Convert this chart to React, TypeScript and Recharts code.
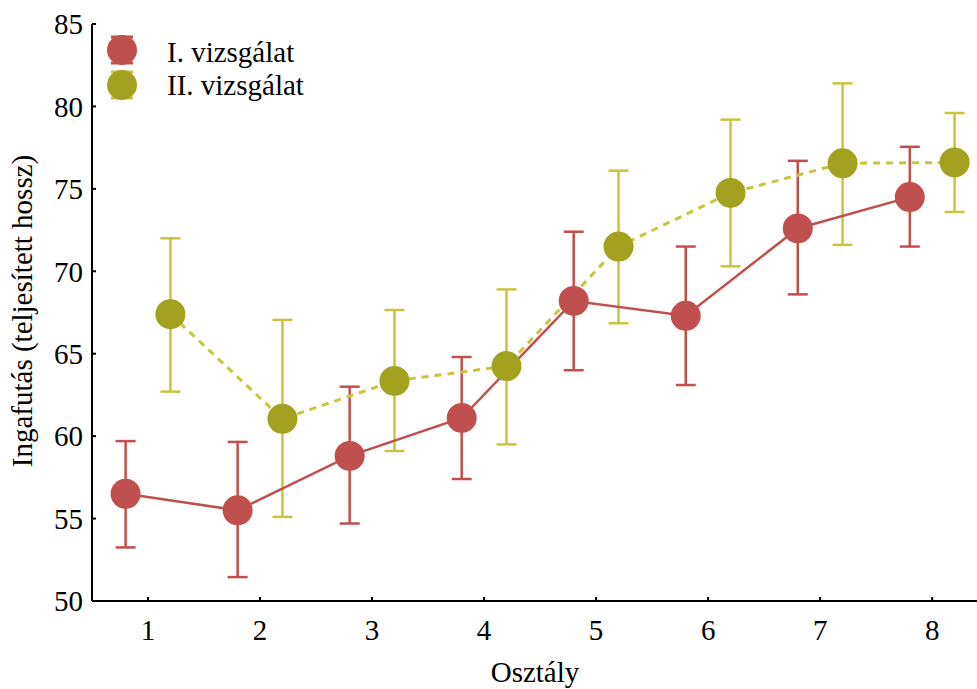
import React from "react";
import { ComposedChart, Scatter, Line, XAxis, YAxis, ErrorBar } from "recharts";

// osztályok (x) és a két vizsgálat átlagai + hibasáv határai
const classes = [1, 2, 3, 4, 5, 6, 7, 8];
const yTicks = [50, 55, 60, 65, 70, 75, 80, 85];

const meanI = [56.5, 55.5, 58.8, 61.1, 68.2, 67.3, 72.6, 74.5];
const lowI = [53.25, 51.45, 54.7, 57.4, 64.0, 63.1, 68.6, 71.5];
const highI = [59.7, 59.65, 63.0, 64.8, 72.4, 71.5, 76.7, 77.55];

const meanII = [67.4, 61.05, 63.35, 64.25, 71.5, 74.75, 76.55, 76.6];
const lowII = [62.7, 55.1, 59.1, 59.5, 66.85, 70.3, 71.6, 73.6];
const highII = [72.0, 67.05, 67.65, 68.9, 76.1, 79.2, 81.4, 79.6];

const seriesNames = ["I. vizsgálat", "II. vizsgálat"];

const RED = "#C0504D";
const OLIVE = "#A2A220";
const OLIVE_LIGHT = "#C8C43E";
const FONT = "'Liberation Serif', 'Times New Roman', serif";
const FS = 29;

const build = (mean: number[], low: number[], high: number[], shift: number) =>
  classes.map((c, i) => ({
    x: c + shift,
    y: mean[i],
    err: [mean[i] - low[i], high[i] - mean[i]],
  }));

const dataI = build(meanI, lowI, highI, -0.2);
const dataII = build(meanII, lowII, highII, 0.2);

const dot = (color: string) => (p: any) => <circle cx={p.cx} cy={p.cy} r={15} fill={color} />;

// jelmagyarázat a rajzterület bal felső sarkában
function LegendOverlay() {
  const items = [
    { name: seriesNames[0], color: RED, cap: RED, cy: 50, ty: 62 },
    { name: seriesNames[1], color: OLIVE, cap: OLIVE_LIGHT, cy: 85, ty: 95 },
  ];
  return (
    <svg
      width={977}
      height={689}
      style={{ position: "absolute", left: 0, top: 0, pointerEvents: "none" }}
    >
      {items.map((it) => (
        <g key={it.name}>
          <line x1={111} x2={133} y1={it.cy - 13} y2={it.cy - 13} stroke={it.cap} strokeWidth={3} />
          <line x1={111} x2={133} y1={it.cy + 13} y2={it.cy + 13} stroke={it.cap} strokeWidth={3} />
          <circle cx={122} cy={it.cy} r={15} fill={it.color} />
          <text x={167} y={it.ty} fontSize={FS} fontFamily={FONT} fill="#000">
            {it.name}
          </text>
        </g>
      ))}
    </svg>
  );
}

const tickStyle = { fontSize: FS, fontFamily: FONT, fill: "#000" };

export default function App() {
  return (
    <div style={{ position: "absolute", left: 0, top: 0, width: 977, height: 689, background: "#fff" }}>
      <ComposedChart width={977} height={689} margin={{ top: 24, right: 0, bottom: 0, left: 0 }}>
        <XAxis
          type="number"
          dataKey="x"
          domain={[0.5, 8.4]}
          ticks={classes}
          allowDataOverflow
          height={88}
          tick={tickStyle}
          tickSize={-4}
          tickMargin={22}
          axisLine={{ stroke: "#000", strokeWidth: 2 }}
          tickLine={{ stroke: "#000", strokeWidth: 2 }}
          label={{
            content: () => (
              <text x={535} y={682} textAnchor="middle" fontSize={FS} fontFamily={FONT} fill="#000">
                Osztály
              </text>
            ),
          }}
        />
        <YAxis
          type="number"
          domain={[50, 85]}
          ticks={yTicks}
          width={92}
          tick={tickStyle}
          tickSize={-4}
          tickMargin={13}
          axisLine={{ stroke: "#000", strokeWidth: 2 }}
          tickLine={{ stroke: "#000", strokeWidth: 2 }}
          label={{
            content: () => (
              <text
                x={22}
                y={311}
                transform="rotate(-90, 22, 311)"
                textAnchor="middle"
                dominantBaseline="central"
                fontSize={FS}
                fontFamily={FONT}
                fill="#000"
              >
                Ingafutás (teljesített hossz)
              </text>
            ),
          }}
        />
        <Scatter data={dataI} dataKey="y" name={seriesNames[0]} shape={dot(RED)} isAnimationActive={false}>
          <ErrorBar dataKey="err" direction="y" width={10} stroke={RED} strokeWidth={2.5} />
        </Scatter>
        <Scatter data={dataII} dataKey="y" name={seriesNames[1]} shape={dot(OLIVE)} isAnimationActive={false}>
          <ErrorBar dataKey="err" direction="y" width={10} stroke={OLIVE_LIGHT} strokeWidth={2.5} />
        </Scatter>
        <Line
          data={dataI}
          dataKey="y"
          type="linear"
          stroke={RED}
          strokeWidth={2.5}
          dot={false}
          activeDot={false}
          isAnimationActive={false}
        />
        <Line
          data={dataII}
          dataKey="y"
          type="linear"
          stroke={OLIVE_LIGHT}
          strokeWidth={3}
          strokeDasharray="7 6"
          dot={false}
          activeDot={false}
          isAnimationActive={false}
        />
      </ComposedChart>
      <LegendOverlay />
    </div>
  );
}
